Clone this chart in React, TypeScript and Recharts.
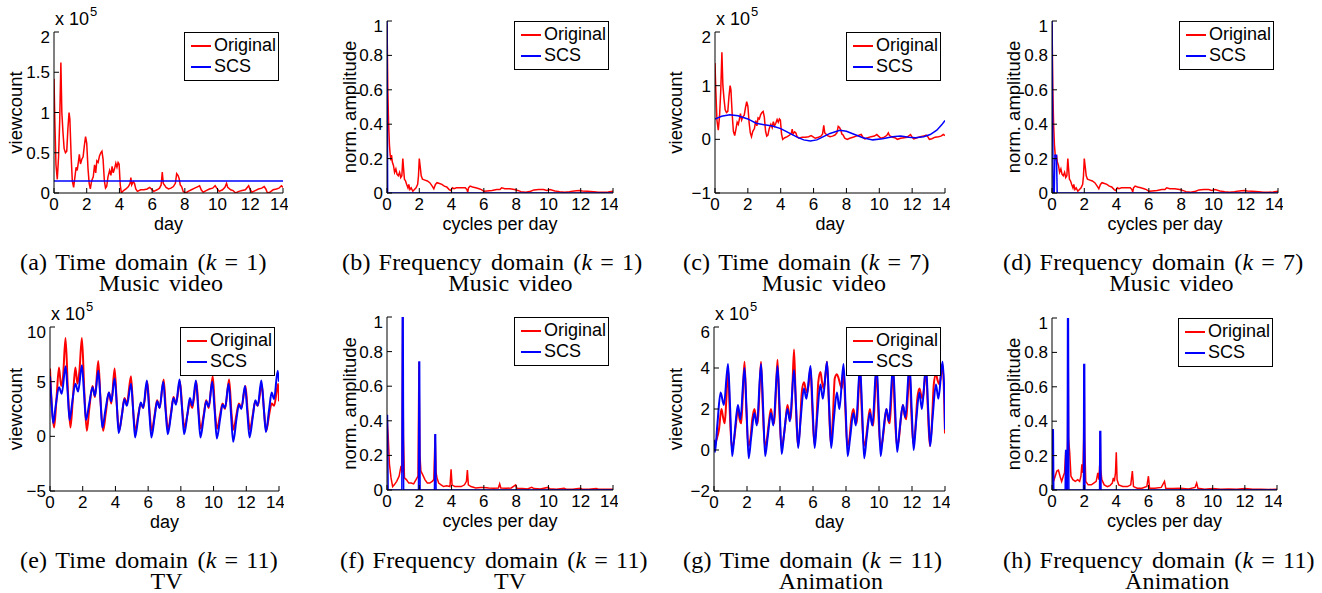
import React from 'react';
import { LineChart, Line, XAxis, YAxis, Legend } from 'recharts';

type Pt = [number, number];

const SANS = '"Liberation Sans", Arial, Helvetica, sans-serif';
const SERIF = '"Liberation Serif", "Times New Roman", serif';

const dayTicks = [0, 2, 4, 6, 8, 10, 12, 14];
const ampTicks = [0, 0.2, 0.4, 0.6, 0.8, 1];

// music video, time domain (x 10^5 views), used by (a) and (c)
const mvOriginal: Pt[] = [
  [0, 1.42], [0.05, 0.9], [0.12, 0.35], [0.2, 0.17], [0.28, 0.45], [0.35, 0.9], [0.42, 1.62], [0.48, 1.0],
  [0.55, 0.75], [0.62, 0.55], [0.7, 0.5], [0.78, 0.52], [0.85, 0.8], [0.92, 1.0], [0.97, 0.92], [1.05, 0.45],
  [1.12, 0.15], [1.2, 0.07], [1.28, 0.2], [1.35, 0.32], [1.42, 0.28], [1.5, 0.4], [1.55, 0.48], [1.62, 0.36],
  [1.7, 0.42], [1.78, 0.45], [1.85, 0.58], [1.93, 0.7], [2.0, 0.62], [2.08, 0.3], [2.15, 0.12], [2.22, 0.05],
  [2.3, 0.15], [2.4, 0.2], [2.48, 0.35], [2.55, 0.25], [2.62, 0.4], [2.7, 0.38], [2.78, 0.46], [2.86, 0.5],
  [2.93, 0.52], [3.0, 0.42], [3.08, 0.15], [3.15, 0.06], [3.22, 0.08], [3.3, 0.2], [3.4, 0.28], [3.48, 0.22],
  [3.55, 0.33], [3.62, 0.25], [3.7, 0.3], [3.78, 0.37], [3.85, 0.32], [3.92, 0.38], [3.98, 0.36], [4.05, 0.1],
  [4.12, 0.0], [4.25, 0.03], [4.4, 0.05], [4.55, 0.08], [4.65, 0.12], [4.7, 0.19], [4.75, 0.1], [4.85, 0.14],
  [4.92, 0.12], [5.0, 0.05], [5.1, 0.02], [5.3, 0.04], [5.5, 0.04], [5.7, 0.05], [5.85, 0.07], [5.95, 0.05],
  [6.1, 0.02], [6.3, 0.04], [6.45, 0.06], [6.55, 0.1], [6.62, 0.26], [6.68, 0.12], [6.75, 0.1], [6.85, 0.07],
  [7.0, 0.05], [7.15, 0.06], [7.3, 0.08], [7.42, 0.12], [7.5, 0.24], [7.58, 0.22], [7.65, 0.18], [7.72, 0.1],
  [7.8, 0.08], [7.9, 0.02], [8.05, 0.0], [8.2, 0.02], [8.4, 0.04], [8.6, 0.06], [8.8, 0.08], [8.9, 0.09],
  [9.0, 0.04], [9.12, 0.01], [9.3, 0.03], [9.5, 0.05], [9.7, 0.06], [9.85, 0.09], [9.95, 0.06], [10.1, 0.02],
  [10.3, 0.04], [10.45, 0.07], [10.55, 0.12], [10.62, 0.07], [10.8, 0.04], [10.95, 0.03], [11.1, 0.0],
  [11.3, 0.02], [11.5, 0.03], [11.7, 0.04], [11.9, 0.09], [12.0, 0.04], [12.1, 0.01], [12.3, 0.03],
  [12.5, 0.05], [12.7, 0.06], [12.85, 0.08], [12.95, 0.05], [13.05, 0.0], [13.2, 0.01], [13.4, 0.04],
  [13.6, 0.05], [13.75, 0.06], [13.9, 0.09], [14.0, 0.07],
];
const aScs: Pt[] = [[0, 0.15], [14, 0.15]];
const cScs: Pt[] = [
  [0, 0.38], [0.4, 0.43], [0.9, 0.46], [1.4, 0.44], [2.0, 0.38], [2.5, 0.3], [3.0, 0.27], [3.5, 0.25],
  [4.0, 0.2], [4.5, 0.12], [5.0, 0.04], [5.4, -0.01], [5.8, -0.03], [6.2, -0.01], [6.6, 0.05], [7.0, 0.11],
  [7.6, 0.17], [8.0, 0.15], [8.5, 0.09], [9.0, 0.03], [9.6, -0.01], [10.2, 0.01], [10.8, 0.05], [11.3, 0.06],
  [11.8, 0.04], [12.2, 0.03], [12.7, 0.05], [13.1, 0.09], [13.5, 0.17], [13.8, 0.27], [14.0, 0.35],
];

// music video, frequency domain, used by (b) and (d)
const mvSpectrum: Pt[] = [
  [0, 0.98], [0.02, 0.85], [0.05, 0.6], [0.1, 0.4], [0.15, 0.28], [0.2, 0.22], [0.24, 0.19], [0.28, 0.22],
  [0.33, 0.18], [0.4, 0.16], [0.47, 0.12], [0.55, 0.14], [0.62, 0.11], [0.7, 0.1], [0.78, 0.12], [0.85, 0.09],
  [0.92, 0.1], [0.98, 0.2], [1.02, 0.15], [1.08, 0.08], [1.15, 0.07], [1.22, 0.05], [1.3, 0.03], [1.35, 0.05],
  [1.42, 0.02], [1.5, 0.03], [1.6, 0.01], [1.7, 0.02], [1.8, 0.03], [1.9, 0.05], [1.95, 0.1], [2.0, 0.2],
  [2.05, 0.16], [2.12, 0.1], [2.2, 0.08], [2.35, 0.075], [2.5, 0.07], [2.65, 0.06], [2.8, 0.04], [2.9, 0.025],
  [3.0, 0.05], [3.1, 0.06], [3.25, 0.055], [3.4, 0.05], [3.55, 0.04], [3.7, 0.035], [3.85, 0.02], [3.95, 0.015],
  [4.05, 0.03], [4.15, 0.025], [4.3, 0.03], [4.5, 0.03], [4.7, 0.03], [4.85, 0.03], [4.95, 0.02], [5.0, 0.005],
  [5.05, 0.03], [5.15, 0.04], [5.3, 0.035], [5.5, 0.03], [5.7, 0.025], [5.85, 0.02], [6.0, 0.01], [6.2, 0.012],
  [6.5, 0.015], [6.8, 0.02], [7.0, 0.02], [7.1, 0.03], [7.3, 0.025], [7.6, 0.025], [7.9, 0.02], [8.1, 0.015],
  [8.3, 0.008], [8.6, 0.005], [8.9, 0.01], [9.1, 0.018], [9.4, 0.02], [9.7, 0.02], [9.9, 0.015], [10.1, 0.02],
  [10.4, 0.012], [10.7, 0.008], [11.0, 0.005], [11.3, 0.008], [11.6, 0.012], [11.9, 0.015], [12.1, 0.012],
  [12.4, 0.01], [12.8, 0.008], [13.1, 0.005], [13.4, 0.004], [13.7, 0.006], [14.0, 0.01],
];
const bScs: Pt[] = [[0, 1], [0.04, 0], [14, 0]];
const dScs: Pt[] = [[0, 1], [0.07, 0], [0.14, 0], [0.18, 0.22], [0.28, 0.22], [0.32, 0], [14, 0]];

// TV, time domain (x 10^5)
const eOriginal: Pt[] = [
  [0, 6.2], [0.1, 3], [0.25, 0.8], [0.4, 3.5], [0.55, 6.3], [0.68, 4.6], [0.8, 5.5], [0.95, 9.0], [1.1, 4],
  [1.25, 0.8], [1.4, 3.5], [1.55, 6.3], [1.68, 4.8], [1.8, 6], [1.95, 9.0], [2.1, 4], [2.25, 0.5], [2.4, 2.5],
  [2.6, 4.6], [2.75, 3.6], [2.95, 6.9], [3.1, 3], [3.25, 0.5], [3.4, 2], [3.6, 4.0], [3.75, 3.0], [3.95, 6.2],
  [4.1, 2.5], [4.22, 0.5], [4.4, 2], [4.55, 3.5], [4.7, 3.0], [4.95, 5.5], [5.1, 2], [5.22, 0.5], [5.4, 2],
  [5.55, 3.0], [5.7, 2.6], [5.95, 5.0], [6.1, 2], [6.22, 0.5], [6.4, 2], [6.55, 3.3], [6.7, 2.6], [6.95, 5.2],
  [7.1, 2], [7.22, 0.6], [7.4, 2.2], [7.55, 3.6], [7.7, 3.0], [7.95, 5.0], [8.1, 2.2], [8.22, 0.8], [8.4, 2],
  [8.55, 3.1], [8.7, 2.6], [8.95, 5.0], [9.1, 2], [9.22, 0.7], [9.4, 2], [9.55, 3.3], [9.7, 2.6], [9.95, 5.5],
  [10.1, 2], [10.22, 0.7], [10.4, 2], [10.55, 3.0], [10.7, 2.5], [10.95, 5.2], [11.1, 2], [11.22, 0.6],
  [11.4, 2], [11.55, 3.0], [11.7, 2.6], [11.95, 4.6], [12.1, 2], [12.22, 0.6], [12.4, 2], [12.55, 3.2],
  [12.7, 2.8], [12.95, 4.7], [13.1, 2], [13.22, 0.5], [13.4, 2], [13.55, 3.0], [13.7, 2.8], [13.95, 4.8], [14, 3.2],
];
const eScs: Pt[] = [
  [0, 5.5], [0.1, 3], [0.2, 1.2], [0.35, 2.8], [0.55, 4.5], [0.72, 3.9], [0.95, 6.4], [1.08, 4], [1.2, 1.5],
  [1.35, 3], [1.55, 4.8], [1.72, 4.1], [1.95, 6.5], [2.08, 4], [2.2, 1.5], [2.4, 3], [2.6, 4.5], [2.75, 3.7],
  [2.95, 6.0], [3.08, 3.5], [3.2, 0.8], [3.4, 2.5], [3.6, 4.0], [3.75, 3.2], [3.95, 5.3], [4.08, 3], [4.2, 0.3],
  [4.4, 2], [4.55, 3.4], [4.7, 2.8], [4.95, 4.8], [5.08, 2.5], [5.2, -0.1], [5.4, 1.8], [5.55, 3.1], [5.7, 2.6],
  [5.92, 5.1], [6.06, 2.5], [6.2, -0.1], [6.4, 1.8], [6.55, 3.2], [6.7, 2.6], [6.92, 5.0], [7.06, 2.5],
  [7.2, 0.2], [7.4, 2], [7.55, 3.5], [7.7, 2.9], [7.92, 5.2], [8.06, 2.8], [8.2, 0.2], [8.4, 2], [8.55, 3.5],
  [8.7, 2.8], [8.92, 5.1], [9.06, 2.5], [9.2, -0.1], [9.4, 1.8], [9.55, 3.2], [9.7, 2.7], [9.92, 5.0],
  [10.06, 2.5], [10.2, -0.2], [10.4, 1.6], [10.55, 2.9], [10.7, 2.6], [10.92, 4.8], [11.06, 2.2], [11.2, -0.5],
  [11.4, 1.6], [11.55, 2.9], [11.7, 2.5], [11.92, 4.6], [12.06, 2.3], [12.2, -0.1], [12.4, 1.8], [12.55, 3.3],
  [12.7, 2.8], [12.92, 5.1], [13.06, 2.8], [13.2, 0.4], [13.4, 2.5], [13.55, 4.0], [13.7, 3.4], [13.92, 6.0],
  [14, 5.0],
];

// TV, frequency domain
const fOriginal: Pt[] = [
  [0, 0.43], [0.08, 0.3], [0.15, 0.15], [0.25, 0.07], [0.35, 0.02], [0.45, 0.03], [0.6, 0.05], [0.75, 0.08],
  [0.87, 0.14], [0.93, 0.1], [0.97, 1.0], [1.02, 0.3], [1.08, 0.07], [1.2, 0.06], [1.35, 0.04], [1.5, 0.04],
  [1.65, 0.035], [1.8, 0.06], [1.92, 0.08], [1.98, 0.74], [2.04, 0.2], [2.1, 0.11], [2.2, 0.09], [2.35, 0.06],
  [2.5, 0.04], [2.65, 0.04], [2.8, 0.05], [2.9, 0.06], [2.98, 0.32], [3.04, 0.1], [3.1, 0.07], [3.2, 0.04],
  [3.35, 0.03], [3.5, 0.02], [3.7, 0.025], [3.9, 0.02], [3.97, 0.12], [4.03, 0.03], [4.2, 0.02], [4.4, 0.02],
  [4.6, 0.02], [4.8, 0.03], [4.92, 0.05], [4.98, 0.115], [5.04, 0.03], [5.2, 0.02], [5.5, 0.012], [5.8, 0.015],
  [6.0, 0.015], [6.3, 0.012], [6.6, 0.01], [6.9, 0.012], [6.98, 0.035], [7.05, 0.012], [7.4, 0.01],
  [7.7, 0.012], [7.97, 0.03], [8.05, 0.01], [8.4, 0.008], [8.7, 0.006], [8.97, 0.015], [9.1, 0.008],
  [9.5, 0.006], [9.97, 0.015], [10.1, 0.007], [10.5, 0.005], [10.97, 0.01], [11.1, 0.005], [11.5, 0.005],
  [11.97, 0.01], [12.1, 0.005], [12.5, 0.005], [12.97, 0.008], [13.1, 0.005], [13.5, 0.004], [14, 0.005],
];
const fScs: Pt[] = [
  [0, 0.43], [0.03, 0.43], [0.07, 0], [0.92, 0], [0.95, 1.0], [1.0, 1.0], [1.03, 0], [1.95, 0], [1.98, 0.74],
  [2.02, 0.74], [2.05, 0], [2.94, 0], [2.97, 0.32], [3.01, 0.32], [3.04, 0], [14, 0],
];

// animation, time domain (x 10^5)
const gOriginal: Pt[] = [
  [0, 0.2], [0.15, 0.5], [0.3, 1.0], [0.45, 2.0], [0.55, 1.6], [0.65, 1.3], [0.75, 2.5], [0.85, 4.0], [0.95, 2.0],
  [1.08, 0.1], [1.2, 0.4], [1.32, 1.2], [1.45, 2.0], [1.55, 1.5], [1.65, 1.3], [1.75, 2.8], [1.85, 4.3],
  [1.95, 2.2], [2.08, 0.2], [2.2, 0.5], [2.32, 1.5], [2.45, 2.0], [2.55, 1.5], [2.65, 1.3], [2.75, 2.8],
  [2.85, 4.3], [2.95, 2.2], [3.08, 0.2], [3.2, 0.5], [3.32, 1.3], [3.45, 2.0], [3.55, 1.5], [3.65, 1.3],
  [3.75, 2.8], [3.85, 4.4], [3.95, 2.2], [4.08, 0.2], [4.2, 0.5], [4.32, 1.3], [4.45, 2.2], [4.55, 1.8],
  [4.65, 1.5], [4.75, 3.0], [4.85, 4.9], [4.95, 2.5], [5.08, 0.2], [5.2, 1.0], [5.32, 2.8], [5.45, 3.3],
  [5.55, 3.0], [5.65, 2.8], [5.75, 3.3], [5.85, 4.0], [5.95, 2.2], [6.08, 0.3], [6.2, 1.2], [6.32, 3.3],
  [6.45, 3.8], [6.55, 3.3], [6.65, 3.0], [6.75, 3.6], [6.85, 4.3], [6.95, 2.5], [7.08, 0.3], [7.2, 1.5],
  [7.32, 3.5], [7.45, 3.7], [7.55, 3.5], [7.65, 3.2], [7.75, 3.0], [7.85, 4.0], [7.95, 2.2], [8.08, 0.2],
  [8.2, 0.5], [8.32, 1.5], [8.45, 2.0], [8.55, 1.5], [8.65, 1.3], [8.75, 2.6], [8.85, 4.0], [8.95, 2.0],
  [9.08, 0.2], [9.2, 0.5], [9.32, 1.3], [9.45, 2.0], [9.55, 1.4], [9.65, 1.2], [9.75, 2.6], [9.85, 4.0],
  [9.95, 2.0], [10.08, 0.2], [10.2, 0.4], [10.32, 1.2], [10.45, 2.0], [10.55, 1.5], [10.65, 1.3], [10.75, 2.6],
  [10.85, 4.0], [10.95, 2.0], [11.08, 0.2], [11.2, 0.5], [11.32, 1.5], [11.45, 2.2], [11.55, 1.7], [11.65, 1.5],
  [11.75, 2.7], [11.85, 4.0], [11.95, 2.0], [12.08, 0.3], [12.2, 1.0], [12.32, 2.5], [12.45, 3.0], [12.55, 2.7],
  [12.65, 2.5], [12.75, 3.2], [12.85, 4.0], [12.95, 2.2], [13.08, 0.2], [13.2, 1.2], [13.32, 3.2], [13.45, 3.7],
  [13.55, 3.4], [13.65, 3.2], [13.75, 3.6], [13.85, 4.2], [13.95, 2.5], [14, 0.8],
];
const gScs: Pt[] = [
  [0, 0.5], [0.06, -0.1], [0.2, 1.2], [0.4, 2.8], [0.6, 2.2], [0.85, 4.2], [0.98, 2], [1.1, -0.3], [1.25, 0.8],
  [1.45, 2.2], [1.6, 1.5], [1.85, 4.0], [1.98, 1.8], [2.1, -0.4], [2.25, 0.6], [2.45, 1.8], [2.6, 1.2],
  [2.85, 4.2], [2.98, 2], [3.1, -0.3], [3.25, 0.6], [3.45, 1.8], [3.6, 1.2], [3.85, 4.1], [3.98, 2], [4.1, -0.2],
  [4.25, 0.8], [4.45, 2.0], [4.6, 1.4], [4.85, 3.9], [4.98, 2], [5.1, 0.1], [5.25, 1.5], [5.45, 3.0], [5.6, 2.5],
  [5.85, 4.1], [5.98, 2], [6.1, 0.1], [6.25, 1.6], [6.45, 3.2], [6.6, 2.5], [6.85, 4.3], [6.98, 2.1], [7.1, 0.1],
  [7.25, 1.4], [7.45, 2.8], [7.6, 2.0], [7.85, 4.2], [7.98, 2], [8.1, -0.3], [8.25, 0.6], [8.45, 1.8],
  [8.6, 1.2], [8.85, 4.1], [8.98, 1.9], [9.1, -0.4], [9.25, 0.6], [9.45, 1.8], [9.6, 1.2], [9.85, 4.2],
  [9.98, 2], [10.1, -0.3], [10.25, 0.8], [10.45, 2.0], [10.6, 1.4], [10.85, 4.1], [10.98, 2], [11.1, -0.1],
  [11.25, 1.0], [11.45, 2.2], [11.6, 1.6], [11.85, 4.2], [11.98, 2], [12.1, 0], [12.25, 1.4], [12.45, 2.8],
  [12.6, 2.0], [12.85, 4.1], [12.98, 2], [13.1, 0.2], [13.25, 1.6], [13.45, 3.2], [13.6, 2.5], [13.85, 4.3],
  [13.98, 2.2], [14, 1.0],
];

// animation, frequency domain
const hOriginal: Pt[] = [
  [0, 0.35], [0.05, 0.2], [0.1, 0.05], [0.2, 0.08], [0.3, 0.11], [0.4, 0.115], [0.5, 0.08], [0.6, 0.05],
  [0.7, 0.08], [0.78, 0.1], [0.85, 0.22], [0.92, 0.08], [0.97, 0.3], [1.0, 1.0], [1.03, 0.3], [1.1, 0.22],
  [1.18, 0.08], [1.3, 0.06], [1.45, 0.05], [1.6, 0.06], [1.72, 0.05], [1.8, 0.08], [1.86, 0.15], [1.92, 0.1],
  [1.97, 0.3], [2.0, 0.73], [2.03, 0.3], [2.1, 0.05], [2.25, 0.03], [2.45, 0.03], [2.6, 0.04], [2.75, 0.05],
  [2.85, 0.1], [2.92, 0.06], [2.97, 0.15], [3.0, 0.34], [3.03, 0.12], [3.1, 0.06], [3.25, 0.03], [3.45, 0.02],
  [3.6, 0.025], [3.75, 0.04], [3.82, 0.07], [3.88, 0.05], [3.95, 0.1], [4.0, 0.22], [4.05, 0.06], [4.15, 0.03],
  [4.4, 0.02], [4.7, 0.02], [4.9, 0.03], [5.0, 0.11], [5.07, 0.02], [5.3, 0.01], [5.6, 0.01], [5.9, 0.02],
  [6.0, 0.08], [6.07, 0.01], [6.4, 0.01], [6.8, 0.015], [7.0, 0.05], [7.08, 0.01], [7.5, 0.008], [8.0, 0.01],
  [8.5, 0.006], [8.9, 0.015], [9.0, 0.04], [9.08, 0.01], [9.5, 0.005], [10.0, 0.008], [10.5, 0.004],
  [11.0, 0.006], [11.5, 0.004], [12.0, 0.008], [12.5, 0.004], [13.0, 0.005], [13.5, 0.003], [14, 0.005],
];
const hScs: Pt[] = [
  [0, 0], [0.03, 0.35], [0.08, 0.35], [0.11, 0], [0.82, 0], [0.85, 0.23], [0.89, 0.23], [0.92, 0], [0.95, 0],
  [0.97, 1.0], [1.02, 1.0], [1.05, 0], [1.96, 0], [1.98, 0.73], [2.03, 0.73], [2.05, 0], [2.96, 0], [2.98, 0.34],
  [3.03, 0.34], [3.05, 0], [14, 0],
];

const captionTags = ['(a)', '(b)', '(c)', '(d)', '(e)', '(f)', '(g)', '(h)'];
const captionKinds = ['Time', 'Frequency', 'Time', 'Frequency', 'Time', 'Frequency', 'Time', 'Frequency'];
const captionK = ['1', '1', '7', '7', '11', '11', '11', '11'];
const captionGenres = ['Music video', 'Music video', 'Music video', 'Music video', 'TV', 'TV', 'Animation', 'Animation'];

const toRows = (pts: Pt[]) => pts.map(([x, y]) => ({ x, y }));
const fmt = (v: number) => String(v).replace('-', '\u2212');

const panels = [
  { L: 54, T: 32, R: 283, B: 193, col: 0, yl: 15, dom: [0, 2], yt: [0, 0.5, 1, 1.5, 2], time: true, orig: mvOriginal, scs: aScs, sw: 1.5, mono: false, cap: 20, capTop: 252 },
  { L: 387, T: 21, R: 613, B: 193, col: 330, yl: 19, dom: [0, 1], yt: ampTicks, time: false, orig: mvSpectrum, scs: bScs, sw: 1.5, mono: false, cap: 342, capTop: 252 },
  { L: 715, T: 32, R: 945, B: 193, col: 660, yl: 15, dom: [-1, 2], yt: [-1, 0, 1, 2], time: true, orig: mvOriginal, scs: cScs, sw: 1.5, mono: false, cap: 683, capTop: 252 },
  { L: 1052, T: 21, R: 1278, B: 193, col: 990, yl: 23, dom: [0, 1], yt: ampTicks, time: false, orig: mvSpectrum, scs: dScs, sw: 1.5, mono: false, cap: 1003, capTop: 252 },
  { L: 50, T: 327, R: 279, B: 491, col: 0, yl: 15, dom: [-5, 10], yt: [-5, 0, 5, 10], time: true, orig: eOriginal, scs: eScs, sw: 2, mono: true, cap: 20, capTop: 550 },
  { L: 387, T: 317, R: 613, B: 490, col: 330, yl: 19, dom: [0, 1], yt: ampTicks, time: false, orig: fOriginal, scs: fScs, sw: 1.5, mono: false, cap: 340, capTop: 550 },
  { L: 714, T: 327, R: 945, B: 491, col: 660, yl: 15, dom: [-2, 6], yt: [-2, 0, 2, 4, 6], time: true, orig: gOriginal, scs: gScs, sw: 2, mono: true, cap: 683, capTop: 550 },
  { L: 1052, T: 318, R: 1277, B: 490, col: 990, yl: 23, dom: [0, 1], yt: ampTicks, time: false, orig: hOriginal, scs: hScs, sw: 1.5, mono: false, cap: 1003, capTop: 550 },
];

const LegendBox = (props: any) => {
  const items = props.payload || [];
  return (
    <div style={{ border: '1px solid #000', background: '#fff', width: 93, height: 45, paddingTop: 2, fontFamily: SANS, fontSize: 18, color: '#000' }}>
      {items.map((it: any) => (
        <div key={it.value} style={{ display: 'flex', alignItems: 'center', height: 21 }}>
          <span style={{ display: 'inline-block', width: 20, borderTop: `2px solid ${it.color}`, margin: '0 3px 0 6px' }} />
          <span>{it.value}</span>
        </div>
      ))}
    </div>
  );
};

const tickStyle = { fill: '#000', fontSize: 17, fontFamily: SANS };
const black = { stroke: '#000', strokeWidth: 1 };

const Panel = ({ p, i }: { p: any; i: number }) => {
  const w = p.R - p.col + 5;
  const h = p.B - p.T + 50;
  const curve = p.mono ? 'monotone' : 'linear';
  return (
    <>
      <div style={{ position: 'absolute', left: p.col, top: p.T - 5 }}>
        <LineChart width={w} height={h} margin={{ top: 5, right: 5, bottom: 0, left: 0 }}>
          <XAxis
            dataKey="x" type="number" domain={[0, 14]} ticks={dayTicks} allowDataOverflow
            height={45} tickSize={-5} tickMargin={10} tick={tickStyle} axisLine={black} tickLine={black}
            label={{ value: p.time ? 'day' : 'cycles per day', position: 'insideBottom', offset: 8, fill: '#000', fontSize: 18, fontFamily: SANS }}
          />
          <XAxis xAxisId="top" orientation="top" type="number" domain={[0, 14]} ticks={dayTicks} height={0} tick={false} tickSize={-5} axisLine={black} tickLine={black} />
          <YAxis
            type="number" domain={p.dom} ticks={p.yt} allowDataOverflow width={p.L - p.col}
            tickSize={-5} tickMargin={9} tick={tickStyle} tickFormatter={fmt} axisLine={black} tickLine={black}
            label={{ value: p.time ? 'viewcount' : 'norm. amplitude', angle: -90, position: 'insideLeft', offset: p.yl, textAnchor: 'middle', fill: '#000', fontSize: 18.5, fontFamily: SANS }}
          />
          <YAxis yAxisId="right" orientation="right" type="number" domain={p.dom} ticks={p.yt} width={0} tick={false} tickSize={-5} axisLine={black} tickLine={black} />
          <Line data={toRows(p.orig)} dataKey="y" name="Original" type={curve} stroke="#ff0000" strokeWidth={p.sw} dot={false} activeDot={false} isAnimationActive={false} />
          <Line data={toRows(p.scs)} dataKey="y" name="SCS" type={curve} stroke="#0000ff" strokeWidth={p.sw} dot={false} activeDot={false} isAnimationActive={false} />
          <Legend
            layout="vertical" align="center" verticalAlign="middle" content={<LegendBox />}
            wrapperStyle={{ top: 5, right: 9, left: 'auto', width: 95 }}
          />
        </LineChart>
      </div>
      {p.time && (
        <div style={{ position: 'absolute', left: p.L + 1, top: p.T - 22, fontFamily: SANS, fontSize: 18, lineHeight: '18px', whiteSpace: 'nowrap' }}>
          x 10<span style={{ fontSize: 13, position: 'relative', top: -9, marginLeft: 1 }}>5</span>
        </div>
      )}
      <div style={{ position: 'absolute', left: p.cap, top: p.capTop, display: 'flex', fontFamily: SERIF, fontSize: 24, lineHeight: '21px', letterSpacing: 0.2, wordSpacing: 3, whiteSpace: 'nowrap' }}>
        <span style={{ marginRight: 8 }}>{captionTags[i]}</span>
        <div style={{ textAlign: 'center' }}>
          <div>
            {captionKinds[i]} domain (<i>k</i>
            <span style={{ margin: '0 8px' }}>=</span>
            {captionK[i]})
          </div>
          <div>{captionGenres[i]}</div>
        </div>
      </div>
    </>
  );
};

export default function App() {
  return (
    <div style={{ position: 'absolute', left: 0, top: 0, width: 1322, height: 593, overflow: 'hidden', background: '#fff' }}>
      {panels.map((p, i) => (
        <Panel key={i} p={p} i={i} />
      ))}
    </div>
  );
}
